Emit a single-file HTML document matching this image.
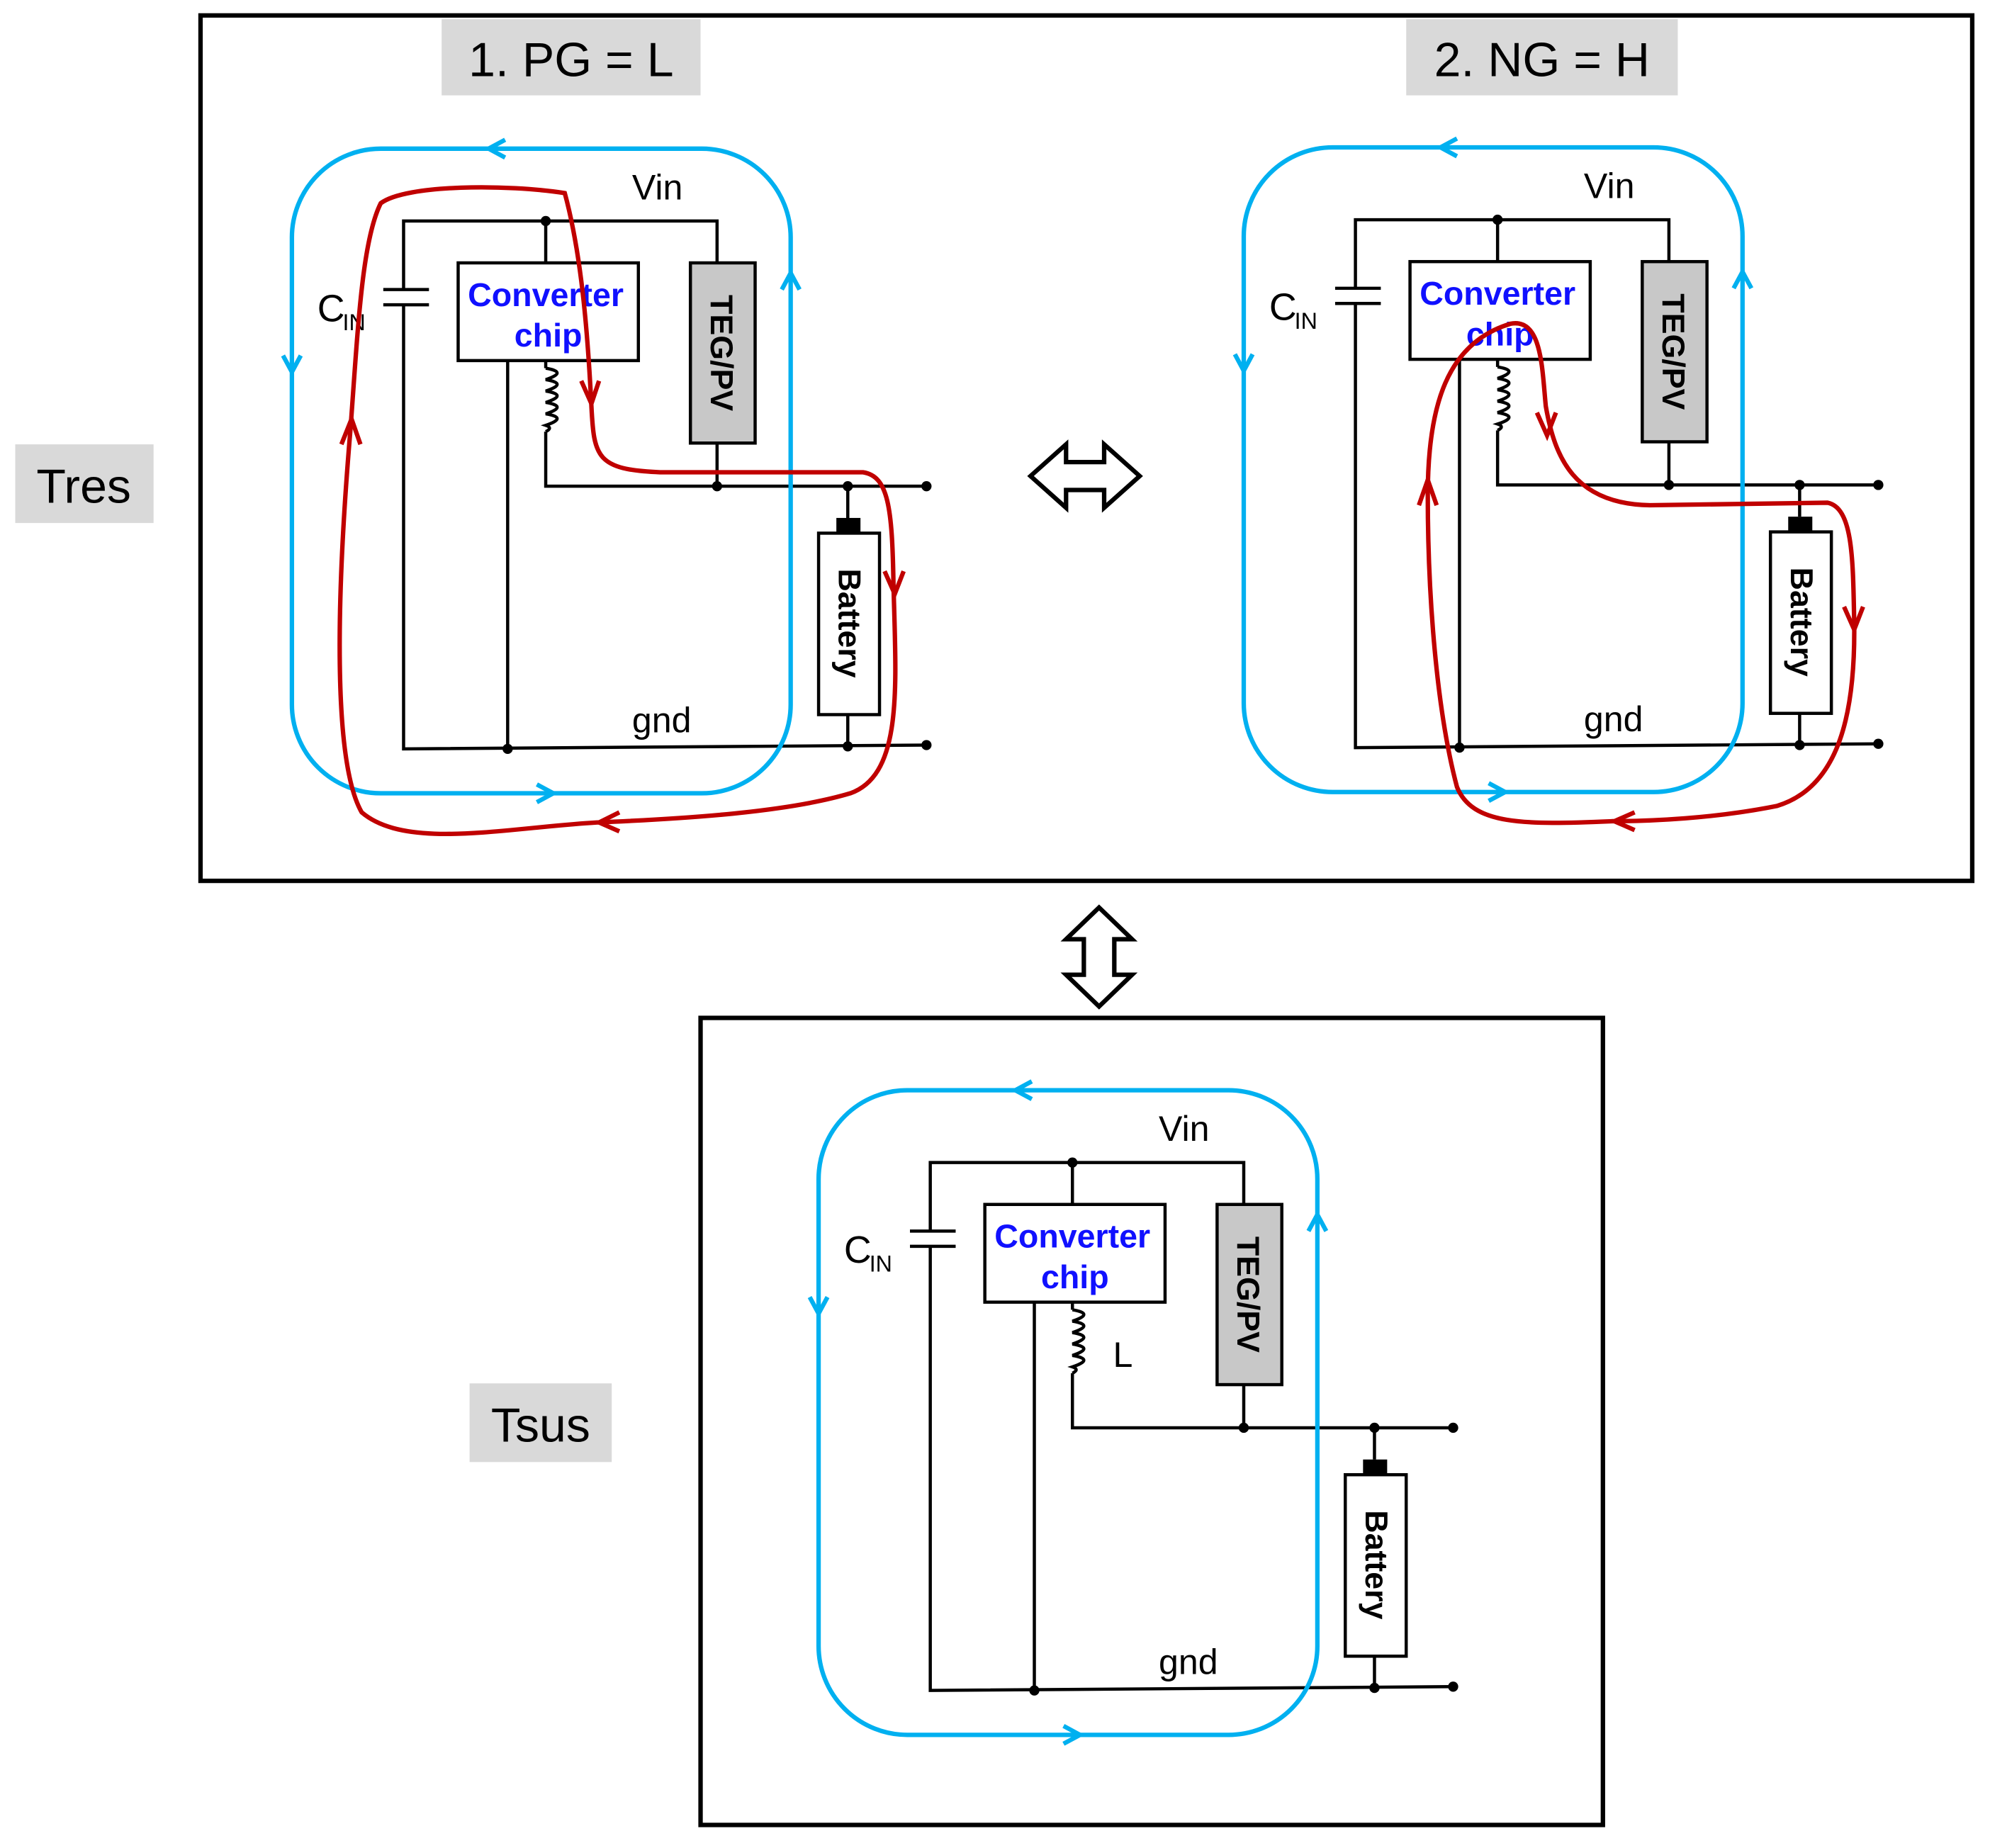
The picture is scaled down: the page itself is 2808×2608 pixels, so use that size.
<!DOCTYPE html>
<html><head><meta charset="utf-8"><style>html,body{margin:0;padding:0;background:#fff}svg{display:block}</style></head>
<body>
<svg width="2808" height="2608" viewBox="0 0 1568 1456" xmlns="http://www.w3.org/2000/svg" font-family="Liberation Sans, Arial, sans-serif">
<rect x="0" y="0" width="1568" height="1456" fill="#fff"/>
<rect x="158" y="12" width="1396" height="682" fill="none" stroke="#000" stroke-width="3.5"/>
<rect x="552" y="802" width="711" height="636" fill="none" stroke="#000" stroke-width="3.5"/>
<rect x="348" y="15" width="204" height="60" fill="#d9d9d9"/><text x="450" y="60" font-size="38" text-anchor="middle">1. PG = L</text>
<rect x="1108" y="15" width="214" height="60" fill="#d9d9d9"/><text x="1215" y="60" font-size="38" text-anchor="middle">2. NG = H</text>
<rect x="12" y="350" width="109" height="62" fill="#d9d9d9"/><text x="66" y="396" font-size="38" text-anchor="middle">Tres</text>
<rect x="370" y="1090" width="112" height="62" fill="#d9d9d9"/><text x="426" y="1136" font-size="38" text-anchor="middle">Tsus</text>

<!-- panel 1 -->
<g>
<g stroke="#000" stroke-width="2.5" fill="none">
<path d="M318,228 V174 H565 V207 M430,174 V207 M318,240 V590 L730,587 M302,228 H338 M302,240 H338 M400,284 V590 M430,284 V290 M430,340 V383 H730 M565,349 V383 M668,383 V408 M668,563 V588"/>
<path d="M430,290 q18,3 0,9 q18,3 0,9 q18,3 0,9 q18,3 0,9 q18,3 0,9 q6,2 0,5"/>
</g>
<rect x="361" y="207" width="142" height="77" fill="#fff" stroke="#000" stroke-width="2.5"/>
<text x="430" y="241" font-size="26" font-weight="bold" fill="#1010ff" text-anchor="middle">Converter</text>
<text x="432" y="273" font-size="26" font-weight="bold" fill="#1010ff" text-anchor="middle">chip</text>
<rect x="544" y="207" width="51" height="142" fill="#c8c8c8" stroke="#000" stroke-width="2.5"/>
<text transform="translate(560,278) rotate(90)" font-size="25" font-weight="bold" text-anchor="middle">TEG/PV</text>
<rect x="659" y="408" width="19" height="12" fill="#000"/>
<rect x="645" y="420" width="48" height="143" fill="#fff" stroke="#000" stroke-width="2.5"/>
<text transform="translate(661,491) rotate(90)" font-size="25" font-weight="bold" text-anchor="middle">Battery</text>
<g fill="#000"><circle cx="430" cy="174" r="4"/><circle cx="565" cy="383" r="4"/><circle cx="668" cy="383" r="4"/><circle cx="730" cy="383" r="4"/><circle cx="400" cy="590" r="4"/><circle cx="668" cy="588" r="4"/><circle cx="730" cy="587" r="4"/></g>
<text x="498" y="157" font-size="28">Vin</text><text x="498" y="577" font-size="28">gnd</text>
<text x="250" y="253" font-size="30">C</text><text x="270" y="260" font-size="18">IN</text>
<path d="M300,117 H553 a70,70 0 0 1 70,70 V555 a70,70 0 0 1 -70,70 H300 a70,70 0 0 1 -70,-70 V187 a70,70 0 0 1 70,-70 Z" fill="none" stroke="#00b0f0" stroke-width="3.5"/>
<path d="M398,110 L385,117 L398,124 M223,280 L230,293 L237,280 M423,618 L436,625 L423,632 M616,228 L623,215 L630,228" fill="none" stroke="#00b0f0" stroke-width="3.5"/>
<path d="M276,340 C282,260 285,190 300,160 C320,145 400,145 445,152 C458,200 463,260 466,320 C468,360 470,370 520,372 L680,372 C700,375 703,400 704,460 C706,540 712,610 670,625 C620,640 540,645 470,648 C400,652 320,670 285,640 C262,600 265,470 276,340 Z" fill="none" stroke="#c00000" stroke-width="3.5"/>
<path d="M269,350 L277,330 L284,350 M458,300 L466,318 L472,300 M697,450 L705,468 L712,450 M488,640 L472,648 L488,655" fill="none" stroke="#c00000" stroke-width="3.5"/>
</g>

<!-- panel 2 -->
<g transform="translate(750,-1)">
<g stroke="#000" stroke-width="2.5" fill="none">
<path d="M318,228 V174 H565 V207 M430,174 V207 M318,240 V590 L730,587 M302,228 H338 M302,240 H338 M400,284 V590 M430,284 V290 M430,340 V383 H730 M565,349 V383 M668,383 V408 M668,563 V588"/>
<path d="M430,290 q18,3 0,9 q18,3 0,9 q18,3 0,9 q18,3 0,9 q18,3 0,9 q6,2 0,5"/>
</g>
<rect x="361" y="207" width="142" height="77" fill="#fff" stroke="#000" stroke-width="2.5"/>
<text x="430" y="241" font-size="26" font-weight="bold" fill="#1010ff" text-anchor="middle">Converter</text>
<text x="432" y="273" font-size="26" font-weight="bold" fill="#1010ff" text-anchor="middle">chip</text>
<rect x="544" y="207" width="51" height="142" fill="#c8c8c8" stroke="#000" stroke-width="2.5"/>
<text transform="translate(560,278) rotate(90)" font-size="25" font-weight="bold" text-anchor="middle">TEG/PV</text>
<rect x="659" y="408" width="19" height="12" fill="#000"/>
<rect x="645" y="420" width="48" height="143" fill="#fff" stroke="#000" stroke-width="2.5"/>
<text transform="translate(661,491) rotate(90)" font-size="25" font-weight="bold" text-anchor="middle">Battery</text>
<g fill="#000"><circle cx="430" cy="174" r="4"/><circle cx="565" cy="383" r="4"/><circle cx="668" cy="383" r="4"/><circle cx="730" cy="383" r="4"/><circle cx="400" cy="590" r="4"/><circle cx="668" cy="588" r="4"/><circle cx="730" cy="587" r="4"/></g>
<text x="498" y="157" font-size="28">Vin</text><text x="498" y="577" font-size="28">gnd</text>
<text x="250" y="253" font-size="30">C</text><text x="270" y="260" font-size="18">IN</text>
<path d="M300,117 H553 a70,70 0 0 1 70,70 V555 a70,70 0 0 1 -70,70 H300 a70,70 0 0 1 -70,-70 V187 a70,70 0 0 1 70,-70 Z" fill="none" stroke="#00b0f0" stroke-width="3.5"/>
<path d="M398,110 L385,117 L398,124 M223,280 L230,293 L237,280 M423,618 L436,625 L423,632 M616,228 L623,215 L630,228" fill="none" stroke="#00b0f0" stroke-width="3.5"/>
</g>
<path d="M1125,390 C1125,320 1140,270 1190,255 C1215,250 1215,290 1218,320 C1225,360 1240,397 1300,398 L1440,396 C1460,400 1460,440 1461,490 C1462,560 1450,620 1400,635 C1350,645 1300,647 1270,647 C1200,650 1160,650 1148,620 C1132,560 1125,470 1125,390 Z" fill="none" stroke="#c00000" stroke-width="3.5"/>
<path d="M1118,398 L1125,378 L1132,398 M1211,325 L1219,343 L1226,325 M1453,478 L1461,496 L1468,478 M1288,640 L1272,647 L1288,654" fill="none" stroke="#c00000" stroke-width="3.5"/>

<!-- bottom panel -->
<g transform="translate(415,742)">
<g stroke="#000" stroke-width="2.5" fill="none">
<path d="M318,228 V174 H565 V207 M430,174 V207 M318,240 V590 L730,587 M302,228 H338 M302,240 H338 M400,284 V590 M430,284 V290 M430,340 V383 H730 M565,349 V383 M668,383 V408 M668,563 V588"/>
<path d="M430,290 q18,3 0,9 q18,3 0,9 q18,3 0,9 q18,3 0,9 q18,3 0,9 q6,2 0,5"/>
</g>
<rect x="361" y="207" width="142" height="77" fill="#fff" stroke="#000" stroke-width="2.5"/>
<text x="430" y="241" font-size="26" font-weight="bold" fill="#1010ff" text-anchor="middle">Converter</text>
<text x="432" y="273" font-size="26" font-weight="bold" fill="#1010ff" text-anchor="middle">chip</text>
<rect x="544" y="207" width="51" height="142" fill="#c8c8c8" stroke="#000" stroke-width="2.5"/>
<text transform="translate(560,278) rotate(90)" font-size="25" font-weight="bold" text-anchor="middle">TEG/PV</text>
<rect x="659" y="408" width="19" height="12" fill="#000"/>
<rect x="645" y="420" width="48" height="143" fill="#fff" stroke="#000" stroke-width="2.5"/>
<text transform="translate(661,491) rotate(90)" font-size="25" font-weight="bold" text-anchor="middle">Battery</text>
<g fill="#000"><circle cx="430" cy="174" r="4"/><circle cx="565" cy="383" r="4"/><circle cx="668" cy="383" r="4"/><circle cx="730" cy="383" r="4"/><circle cx="400" cy="590" r="4"/><circle cx="668" cy="588" r="4"/><circle cx="730" cy="587" r="4"/></g>
<text x="498" y="157" font-size="28">Vin</text><text x="498" y="577" font-size="28">gnd</text>
<text x="462" y="335" font-size="28">L</text>
<text x="250" y="253" font-size="30">C</text><text x="270" y="260" font-size="18">IN</text>
<path d="M300,117 H553 a70,70 0 0 1 70,70 V555 a70,70 0 0 1 -70,70 H300 a70,70 0 0 1 -70,-70 V187 a70,70 0 0 1 70,-70 Z" fill="none" stroke="#00b0f0" stroke-width="3.5"/>
<path d="M398,110 L385,117 L398,124 M223,280 L230,293 L237,280 M423,618 L436,625 L423,632 M616,228 L623,215 L630,228" fill="none" stroke="#00b0f0" stroke-width="3.5"/>
</g>

<!-- double arrows -->
<polygon points="812,375 840,350 840,364 870,364 870,350 898,375 870,400 870,386 840,386 840,400" fill="#fff" stroke="#000" stroke-width="3.5"/>
<polygon points="866,715 892,740 878,740 878,768 892,768 866,793 840,768 854,768 854,740 840,740" fill="#fff" stroke="#000" stroke-width="3.5"/>
</svg>
</body></html>
